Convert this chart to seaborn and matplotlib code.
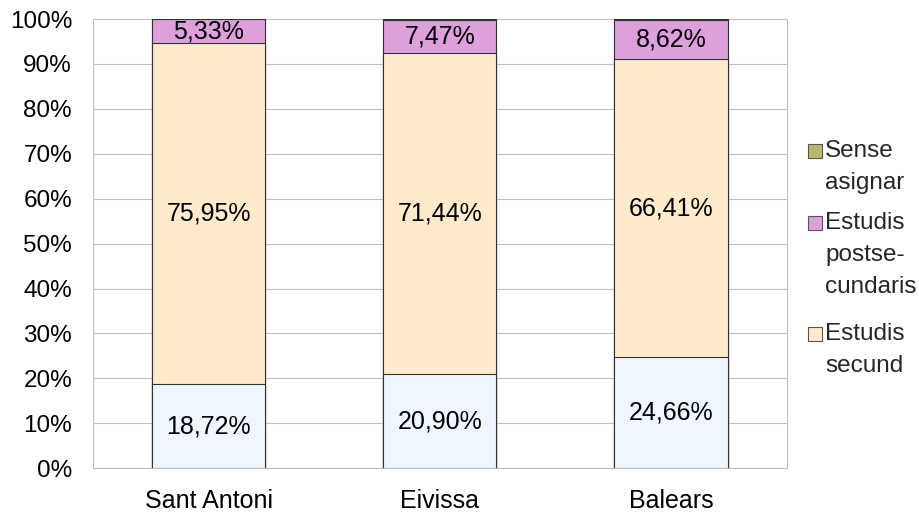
import numpy as np
import pandas as pd
import matplotlib
matplotlib.use("Agg")
import matplotlib.pyplot as plt
import seaborn as sns
from matplotlib.patches import Rectangle

places = ["Sant Antoni", "Eivissa", "Balears"]
basic = [18.72, 20.90, 24.66]
secund = [75.95, 71.44, 66.41]
postsec = [5.33, 7.47, 8.62]
sense = [0.00, 0.19, 0.31]

colors = {"basic": "#eef6ff", "secund": "#ffebcc", "postsec": "#dda0dd", "sense": "#bdb76b"}
legend_labels = ["Sense\nasignar", "Estudis\npostse-\ncundaris", "Estudis\nsecund"]
legend_keys = ["sense", "postsec", "secund"]

sns.set_style("white")
plt.rcParams["font.family"] = ["Liberation Sans", "DejaVu Sans"]
fs = 18

df = pd.DataFrame({"place": places, "basic": basic, "secund": secund,
                   "postsec": postsec, "sense": sense})
df["c1"] = df["basic"]
df["c2"] = df["c1"] + df["secund"]
df["c3"] = df["c2"] + df["postsec"]
df["c4"] = df["c3"] + df["sense"]

fig = plt.figure(figsize=(9.2, 5.15), dpi=100)
ax = fig.add_axes([0.101, 0.091, 0.754, 0.872])

# stacked look: draw cumulative totals from the top down
for col, key in [("c4", "sense"), ("c3", "postsec"), ("c2", "secund"), ("c1", "basic")]:
    sns.barplot(data=df, x="place", y=col, color=colors[key], saturation=1,
                width=0.49, edgecolor="#333333", linewidth=0.8, ax=ax)

for i in range(len(places)):
    segs = [(0, df["c1"][i], basic[i]), (df["c1"][i], df["c2"][i], secund[i]),
            (df["c2"][i], df["c3"][i], postsec[i])]
    for lo, hi, v in segs:
        ax.text(i, (lo + hi) / 2, f"{v:.2f}%".replace(".", ","), ha="center",
                va="center", fontsize=fs, color="black")

ax.set_xlim(-0.5, 2.5)
ax.set_ylim(0, 100)
ax.set_yticks(np.arange(0, 101, 10))
ax.set_yticklabels([f"{v}%" for v in range(0, 101, 10)], fontsize=17.5)
ax.set_xticklabels(places, fontsize=fs)
ax.set_xlabel("")
ax.set_ylabel("")
ax.yaxis.grid(True, color="#c0c0c0", linewidth=0.8)
ax.set_axisbelow(True)
for s in ax.spines.values():
    s.set_color("#c0c0c0")
    s.set_linewidth(0.8)
ax.spines["top"].set_visible(False)
ax.tick_params(axis="y", length=8, color="#c0c0c0", pad=7, labelcolor="black")
ax.set_xticks([-0.5, 0.5, 1.5, 2.5], minor=True)
ax.tick_params(axis="x", which="major", length=0, pad=15, labelcolor="black")
ax.tick_params(axis="x", which="minor", length=10, color="#c0c0c0")

# legend, square aligned with the first line of each label
y_top = [140, 212, 323]
for lab, key, yt in zip(legend_labels, legend_keys, y_top):
    fig.patches.append(Rectangle((808 / 920, 1 - (yt + 18) / 515), 14 / 920, 14 / 515,
                                 transform=fig.transFigure, facecolor=colors[key],
                                 edgecolor="#555555", linewidth=0.8))
    fig.text(825 / 920, 1 - yt / 515, lab, fontsize=17.5, va="top", ha="left",
             linespacing=1.6)

fig.savefig("out.png", dpi=100)
